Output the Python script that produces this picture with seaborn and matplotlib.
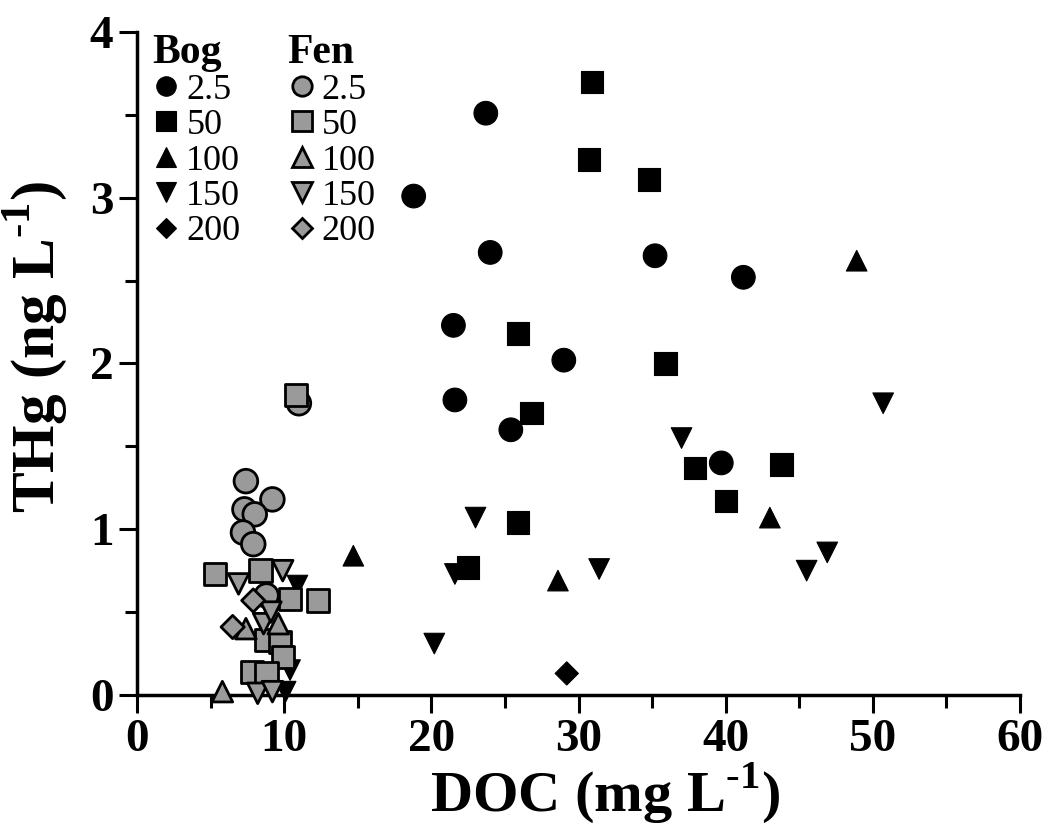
import matplotlib
matplotlib.use("Agg")
import matplotlib.pyplot as plt
from matplotlib.lines import Line2D
from matplotlib.ticker import MultipleLocator
import seaborn as sns
import pandas as pd

# ---- data (DOC mg/L, THg ng/L) ----
depth_labels = ["2.5", "50", "100", "150", "200"]
markers = {"2.5": "o", "50": "s", "100": "^", "150": "v", "200": "D"}

bog_25_x = [23.7, 18.8, 24.0, 35.2, 41.2, 21.5, 29.0, 21.6, 25.4, 39.7]
bog_25_y = [3.51, 3.01, 2.67, 2.65, 2.52, 2.23, 2.02, 1.78, 1.60, 1.40]
bog_50_x = [30.9, 30.7, 34.8, 25.9, 35.9, 26.8, 37.9, 43.8, 40.0, 25.9, 22.5]
bog_50_y = [3.70, 3.23, 3.11, 2.18, 2.00, 1.70, 1.37, 1.39, 1.17, 1.04, 0.77]
bog_100_x = [48.9, 14.7, 43.0, 28.6]
bog_100_y = [2.62, 0.84, 1.07, 0.69]
bog_150_x = [50.7, 37.0, 23.0, 21.6, 31.4, 46.9, 45.5, 20.2, 10.9, 10.4, 10.1]
bog_150_y = [1.76, 1.55, 1.07, 0.73, 0.76, 0.86, 0.75, 0.31, 0.66, 0.15, 0.02]
bog_200_x = [29.2]
bog_200_y = [0.13]

fen_25_x = [7.4, 9.2, 7.3, 8.0, 7.2, 7.9, 11.0, 8.8]
fen_25_y = [1.29, 1.18, 1.12, 1.09, 0.98, 0.91, 1.76, 0.60]
fen_50_x = [10.8, 5.3, 8.4, 10.4, 12.3, 8.8, 9.7, 9.9, 7.8, 8.8]
fen_50_y = [1.81, 0.73, 0.75, 0.58, 0.57, 0.33, 0.32, 0.23, 0.14, 0.13]
fen_100_x = [5.8, 7.4, 9.6]
fen_100_y = [0.02, 0.40, 0.43]
fen_150_x = [6.9, 9.9, 8.6, 8.2, 9.2, 9.1]
fen_150_y = [0.67, 0.75, 0.43, 0.01, 0.02, 0.50]
fen_200_x = [7.9, 6.5]
fen_200_y = [0.57, 0.41]

xticks = [0, 10, 20, 30, 40, 50, 60]
yticks = [0, 1, 2, 3, 4]

bog = {"2.5": (bog_25_x, bog_25_y), "50": (bog_50_x, bog_50_y),
       "100": (bog_100_x, bog_100_y), "150": (bog_150_x, bog_150_y),
       "200": (bog_200_x, bog_200_y)}
fen = {"2.5": (fen_25_x, fen_25_y), "50": (fen_50_x, fen_50_y),
       "100": (fen_100_x, fen_100_y), "150": (fen_150_x, fen_150_y),
       "200": (fen_200_x, fen_200_y)}

rows = []
for site, d in (("Bog", bog), ("Fen", fen)):
    for dep, (xs, ys) in d.items():
        for x, y in zip(xs, ys):
            rows.append({"site": site, "depth": dep, "DOC": x, "THg": y})
df = pd.DataFrame(rows)

# ---- style ----
sns.set_style("ticks")
plt.rcParams["font.family"] = ["Liberation Serif", "DejaVu Serif"]
plt.rcParams["mathtext.fontset"] = "custom"
plt.rcParams["mathtext.rm"] = "Liberation Serif"
plt.rcParams["mathtext.bf"] = "Liberation Serif:bold"
for k in ["text.color", "axes.labelcolor", "xtick.color", "ytick.color",
          "axes.edgecolor"]:
    plt.rcParams[k] = "black"

fig = plt.figure(figsize=(10.49, 8.31), dpi=100)
ax = fig.add_axes([0.1306, 0.1637, 0.8418, 0.7978])

GRAY = "#9a9a9a"
size_map = {"2.5": 290, "50": 260, "100": 220, "150": 220, "200": 140}

bog_df = df[df.site == "Bog"]
fen_df = df[df.site == "Fen"]
sns.scatterplot(data=bog_df, x="DOC", y="THg", style="depth", markers=markers,
                size="depth", sizes=size_map, color="black", edgecolor="black",
                linewidth=0.8, legend=False, ax=ax, clip_on=False, zorder=3)
sns.scatterplot(data=fen_df, x="DOC", y="THg", style="depth", markers=markers,
                size="depth", sizes=size_map, color=GRAY, edgecolor="black",
                linewidth=2.0, legend=False, ax=ax, clip_on=False, zorder=4)

ax.set_xlim(0, 60)
ax.set_ylim(0, 4)
ax.set_xticks(xticks)
ax.set_yticks(yticks)
ax.xaxis.set_minor_locator(MultipleLocator(5))
ax.yaxis.set_minor_locator(MultipleLocator(0.5))
ax.tick_params(which="major", length=13, width=2.2, direction="out",
               labelsize=34, pad=4)
ax.tick_params(which="minor", length=9, width=2.2, direction="out")
for lab in ax.get_xticklabels() + ax.get_yticklabels():
    lab.set_fontweight("bold")
for s in ["top", "right"]:
    ax.spines[s].set_visible(False)
for s in ["left", "bottom"]:
    ax.spines[s].set_linewidth(2.5)

ax.set_xlabel(r"DOC (mg L$^{\mathbf{\text{-}1}}$)", fontsize=42,
              fontweight="bold")
ax.xaxis.set_label_coords(0.53, -0.099, transform=ax.transAxes)
ax.xaxis.label.set_va("top")
ax.set_ylabel(r"THg (ng L$^{\mathbf{\text{-}1}}$)", fontsize=44,
              fontweight="bold")
ax.yaxis.set_label_coords(-0.077, 0.525, transform=ax.transAxes)

# ---- legends ----
def handles(face, lw):
    hs = []
    for d in depth_labels:
        ms = 10 if d == "200" else 14
        hs.append(Line2D([], [], linestyle="none", marker=markers[d],
                         markersize=ms, markerfacecolor=face,
                         markeredgecolor="black", markeredgewidth=lw))
    return hs

common = dict(frameon=False, loc="upper left", fontsize=26,
              handletextpad=0.15, labelspacing=0.06, handlelength=0.8,
              borderpad=0, borderaxespad=0, alignment="left",
              title_fontproperties={"weight": "bold", "size": 30,
                                    "family": "Liberation Serif"})
leg1 = ax.legend(handles("black", 0.8), depth_labels,
                 title="Bog", bbox_to_anchor=(0.017, 0.997), **common)
ax.add_artist(leg1)
leg2 = ax.legend(handles(GRAY, 2.0), depth_labels, title="Fen",
                 bbox_to_anchor=(0.170, 0.997), **common)
for lg in (leg1, leg2):
    lg._legend_box.sep = 1

fig.savefig("out.png", dpi=100)
